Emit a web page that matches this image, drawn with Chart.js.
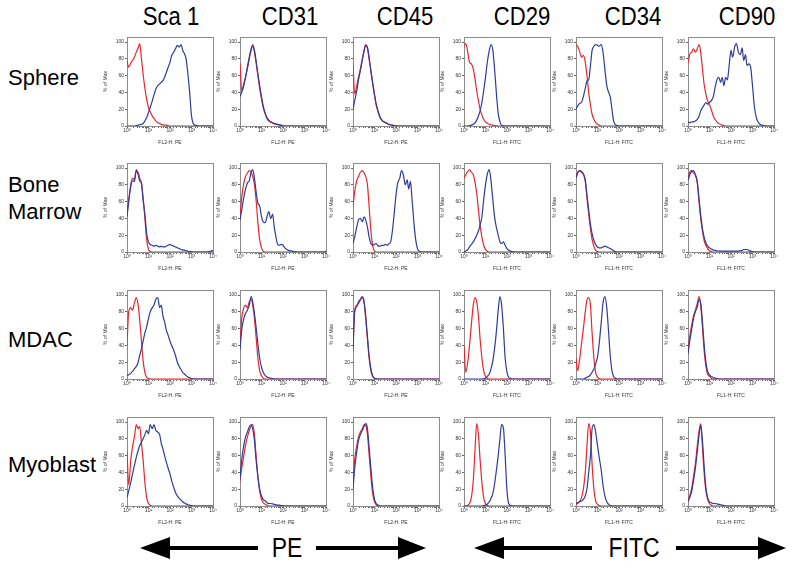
<!DOCTYPE html>
<html>
<head>
<meta charset="utf-8">
<script src="https://cdn.jsdelivr.net/npm/chart.js@4.4.1/dist/chart.umd.min.js"></script>
<style>
body { margin: 0; background: #fff; }
#fig { position: relative; width: 800px; height: 570px; overflow: hidden; font-family: "Liberation Sans", Arial, sans-serif; color: #000; }
#fig canvas { position: absolute; }
.head { position: absolute; top: 2px; width: 100px; text-align: center; font-size: 26px; line-height: 28px; transform: scaleX(0.85); }
.rowlab { position: absolute; left: 8px; font-size: 22px; line-height: 27px; }
.axlab { position: absolute; top: 533px; width: 80px; text-align: center; font-size: 27px; line-height: 30px; transform: scaleX(0.85); }
</style>
</head>
<body>
<div id="fig">
  <svg width="800" height="570" style="position:absolute;left:0;top:0">
    <g fill="#000">
      <polygon points="140,548 170,537 170,559"/><rect x="168" y="546" width="90" height="4"/>
      <rect x="316" y="546" width="84" height="4"/><polygon points="426,548 398,537 398,559"/>
      <polygon points="474,548 504,537 504,559"/><rect x="502" y="546" width="90" height="4"/>
      <rect x="676" y="546" width="84" height="4"/><polygon points="786,548 758,537 758,559"/>
    </g>
  </svg>
  <div class="axlab" style="left:247px">PE</div>
  <div class="axlab" style="left:594px">FITC</div>
</div>
<script>
// histogram channels (log scale, 10^0 .. 10^4)
const bins = [1,1.2,1.5,1.8,2.2,2.7,3.3,3.9,4.7,5.6,6.8,8.2,
  10,12,15,18,22,27,33,39,47,56,68,82,
  100,120,150,180,220,270,330,390,470,560,680,820,
  1000,1200,1500,1800,2200,2700,3300,3900,4700,5600,6800,8200,10000];

const markers = ['Sca 1','CD31','CD45','CD29','CD34','CD90'];
const cellTypes = ['Sphere','Bone Marrow','MDAC','Myoblast'];
const xTitles = ['FL2-H: PE','FL2-H: PE','FL2-H: PE','FL1-H: FITC','FL1-H: FITC','FL1-H: FITC'];
const xTickLabels = ['10\u2070','10\u00b9','10\u00b2','10\u00b3','10\u2074'];
const yTicks = [0,20,40,60,80,100];

// % of Max, red = control, blue = marker; one row per marker column
const sphereRed = [
  [78,70,75,78,82,88,93,98,80,62,45,32, 22,17,12,9,6,4,3,2,1.5,1,1,0.5, 0,0,0,0,0,0,0,0,0,0,0,0, 0,0,0,0,0,0,0,0,0,0,0,0, 0],
  [75,42,50,58,68,80,90,95,88,75,60,45, 32,22,14,9,6,4.5,3.5,2.5,2,1.5,1,0.5, 0.3,0,0,0,0,0,0,0,0,0,0,0, 0,0,0,0,0,0,0,0,0,0,0,0, 0],
  [75,38,48,58,68,80,90,97,92,80,65,50, 36,25,16,10,7,5,4,3,2,1.5,1,0.5, 0.3,0,0,0,0,0,0,0,0,0,0,0, 0,0,0,0,0,0,0,0,0,0,0,0, 0],
  [95,98,88,76,74,68,55,42,30,20,13,8, 5,3.5,2,1.5,1,0.5,0.3,0,0,0,0,0, 0,0,0,0,0,0,0,0,0,0,0,0, 0,0,0,0,0,0,0,0,0,0,0,0, 0],
  [97,95,88,82,84,76,58,40,25,14,8,4, 2,1,0,0,0,0,0,0,0,0,0,0, 0,0,0,0,0,0,0,0,0,0,0,0, 0,0,0,0,0,0,0,0,0,0,0,0, 0],
  [75,85,88,92,88,92,97,88,68,50,38,30, 25,20,12,8,5,3,2,1,0.5,0,0,0, 0,0,0,0,0,0,0,0,0,0,0,0, 0,0,0,0,0,0,0,0,0,0,0,0, 0]
];
const sphereBlue = [
  [0,0,0,0,0,0.5,1,1.5,2,3,6,10, 16,22,30,37,44,48,50,52,54,58,64,70, 76,84,88,92,96,94,97,90,86,80,62,40, 12,3,1,0.5,0,0,0,0,0,0,0,0, 0],
  [35,40,48,58,70,82,92,97,90,78,62,48, 35,24,15,10,7,5,4,3,2.5,2,1.5,1, 0.5,0,0,0,0,0,0,0,0,0,0,0, 0,0,0,0,0,0,0,0,0,0,0,0, 0],
  [20,30,42,55,66,78,90,96,94,82,66,52, 38,26,17,11,7,5,4,3,2,1.5,1,0.5, 0.3,0,0,0,0,0,0,0,0,0,0,0, 0,0,0,0,0,0,0,0,0,0,0,0, 0],
  [0,0,0,0.5,1,2,4,7,12,18,28,42, 58,75,90,97,90,65,35,15,5,1,0.3,0, 0,0,0,0,0,0,0,0,0,0,0,0, 0,0,0,0,0,0,0,0,0,0,0,0, 0],
  [20,24,27,28,35,45,54,55,72,90,95,97, 96,95,97,88,68,48,40,35,20,6,1.5,0.5, 0,0,0,0,0,0,0,0,0,0,0,0, 0,0,0,0,0,0,0,0,0,0,0,0, 0],
  [5,4,5,5,6,8,12,18,22,25,28,26, 28,30,35,45,55,58,52,58,48,58,55,72, 90,82,95,98,88,85,93,78,85,72,74,70, 48,25,10,5,2,1,0.5,0,0,0,0,0, 0]
];
const marrowRed = [
  [45,62,80,88,86,96,95,88,82,65,40,15, 3,0.5,0,0,0,0,0,0,0,0,0,0, 0,0,0,0,0,0,0,0,0,0,0,0, 0,0,0,0,0,0,0,0,0,0,0,0, 0],
  [42,65,82,90,94,97,95,90,80,62,35,15, 5,1,0,0,0,0,0,0,0,0,0,0, 0,0,0,0,0,0,0,0,0,0,0,0, 0,0,0,0,0,0,0,0,0,0,0,0, 0],
  [55,72,85,90,95,97,94,90,80,55,25,8, 1,0,0,0,0,0,0,0,0,0,0,0, 0,0,0,0,0,0,0,0,0,0,0,0, 0,0,0,0,0,0,0,0,0,0,0,0, 0],
  [88,92,96,98,95,92,82,70,50,32,18,8, 3,1,0,0,0,0,0,0,0,0,0,0, 0,0,0,0,0,0,0,0,0,0,0,0, 0,0,0,0,0,0,0,0,0,0,0,0, 0],
  [88,95,97,96,93,84,62,45,28,15,7,2, 0.5,0,0,0,0,0,0,0,0,0,0,0, 0,0,0,0,0,0,0,0,0,0,0,0, 0,0,0,0,0,0,0,0,0,0,0,0, 0],
  [88,95,97,94,92,82,58,40,25,14,8,4, 1.5,0.5,0,0,0,0,0,0,0,0,0,0, 0,0,0,0,0,0,0,0,0,0,0,0, 0,0,0,0,0,0,0,0,0,0,0,0, 0]
];
const marrowBlue = [
  [42,60,78,85,84,98,92,85,82,62,45,22, 12,9,8,7,8,7,6,7,6,6,7,8, 9,8,7,6,5,4,3,2.5,2,1.5,1,0.5, 0.3,0,0,0,0,0,0,0,0,0,0.5,1, 2],
  [38,50,65,75,82,85,95,98,88,72,58,55, 42,36,35,42,48,40,45,30,18,9,8,9, 8,5,3,2,1.5,1,0.5,0.3,0,0,0,0, 0,0,0,0,0,0,0,0,0,0,0,0, 1],
  [10,18,30,38,40,36,42,38,30,18,10,8, 9,10,7,7,8,8,9,8,10,12,25,45, 68,82,88,97,92,80,86,75,84,62,35,15, 4,1,0,0,0,0,0,0,0,0,0,0, 0],
  [0,1,3,6,9,12,16,20,25,32,42,62, 80,92,98,85,62,40,28,20,12,10,12,8, 4,2,1,0.5,0,0,0,0,0,0,0,0, 0,0,0,0,0,0,0,0,0,0,0,0, 0],
  [88,94,97,95,93,86,66,50,33,22,14,9, 6,5,5,6,7,6,5,4,3,1.5,0.5,0, 0,0,0,0,0,0,0,0,0,0,0,0, 0,0,0,0,0,0,0,0,0,0,0,0, 0],
  [85,92,96,97,92,84,62,44,28,18,11,7, 5,3.5,2.5,2,1.5,1.2,1,1,1,1,1,1, 1,1,1,1,1,1.5,2,3,3,3,2,1, 0.5,0,0,0,0,0,0,0,0,0,0,0, 0]
];
const mdacRed = [
  [40,80,85,82,90,97,88,70,45,22,8,2, 0.5,0,0,0,0,0,0,0,0,0,0,0, 0,0,0,0,0,0,0,0,0,0,0,0, 0,0,0,0,0,0,0,0,0,0,0,0, 0],
  [40,72,85,88,85,92,95,88,72,50,25,10, 4,1,0,0,0,0,0,0,0,0,0,0, 0,0,0,0,0,0,0,0,0,0,0,0, 0,0,0,0,0,0,0,0,0,0,0,0, 0],
  [38,82,88,90,94,97,90,72,48,25,10,3, 1,0,0,0,0,0,0,0,0,0,0,0, 0,0,0,0,0,0,0,0,0,0,0,0, 0,0,0,0,0,0,0,0,0,0,0,0, 0],
  [40,8,20,40,65,88,97,92,75,48,25,10, 3,1,0,0,0,0,0,0,0,0,0,0, 0,0,0,0,0,0,0,0,0,0,0,0, 0,0,0,0,0,0,0,0,0,0,0,0, 0],
  [25,10,25,42,60,80,95,97,88,55,25,8, 2,0.5,0,0,0,0,0,0,0,0,0,0, 0,0,0,0,0,0,0,0,0,0,0,0, 0,0,0,0,0,0,0,0,0,0,0,0, 0],
  [35,50,65,75,82,90,98,88,62,35,15,6, 3,1,0,0,0,0,0,0,0,0,0,0, 0,0,0,0,0,0,0,0,0,0,0,0, 0,0,0,0,0,0,0,0,0,0,0,0, 0]
];
const mdacBlue = [
  [4,5,7,9,12,15,20,28,36,45,55,62, 72,80,85,88,95,97,85,88,75,68,58,52, 45,40,34,28,20,15,11,8,6,4,2.5,1.5, 0.5,0,0,0,0,0,0,0,0,0,0,0, 0],
  [35,58,72,78,82,88,98,92,78,62,42,25, 14,8,4,2.5,1.5,1,0.5,0,0,0,0,0, 0,0,0,0,0,0,0,0,0,0,0,0, 0,0,0,0,0,0,0,0,0,0,0,0, 0],
  [35,80,86,92,95,98,92,75,50,28,12,4, 1,0.5,0,0,0,0,0,0,0,0,0,0, 0,0,0,0,0,0,0,0,0,0,0,0, 0,0,0,0,0,0,0,0,0,0,0,0, 0],
  [0,0,0,0,0,0,0,0,0,0,0,0.5, 1,3,6,12,22,38,60,82,98,88,60,25, 8,2,0.5,0,0,0,0,0,0,0,0,0, 0,0,0,0,0,0,0,0,0,0,0,0, 0],
  [0,0,0,0,0,1,2,3,5,8,12,18, 26,42,68,90,98,85,55,28,10,3,1,0, 0,0,0,0,0,0,0,0,0,0,0,0, 0,0,0,0,0,0,0,0,0,0,0,0, 0],
  [30,45,60,72,80,86,95,90,68,42,20,9, 5,3,2,1,0.5,0,0,0,0,0,0,0, 0,0,0,0,0,0,0,0,0,0,0,0, 0,0,0,0,0,0,0,0,0,0,0,0, 0]
];
const myoRed = [
  [65,25,55,70,82,97,92,95,75,55,28,10, 3,1,0,0,0,0,0,0,0,0,0,0, 0,0,0,0,0,0,0,0,0,0,0,0, 0,0,0,0,0,0,0,0,0,0,0,0, 0],
  [30,45,60,72,82,90,95,97,85,60,35,18, 8,4,2,1,0,0,0,0,0,0,0,0, 0,0,0,0,0,0,0,0,0,0,0,0, 0,0,0,0,0,0,0,0,0,0,0,0, 0],
  [25,55,72,82,88,92,97,96,85,62,35,15, 5,1.5,0,0,0,0,0,0,0,0,0,0, 0,0,0,0,0,0,0,0,0,0,0,0, 0,0,0,0,0,0,0,0,0,0,0,0, 0],
  [0,0,1,3,10,30,70,98,85,55,28,10, 3,1,0,0,0,0,0,0,0,0,0,0, 0,0,0,0,0,0,0,0,0,0,0,0, 0,0,0,0,0,0,0,0,0,0,0,0, 0],
  [2,3,6,10,20,40,75,98,88,50,20,6, 2,0.5,0,0,0,0,0,0,0,0,0,0, 0,0,0,0,0,0,0,0,0,0,0,0, 0,0,0,0,0,0,0,0,0,0,0,0, 0],
  [8,12,22,35,50,72,90,98,70,40,18,8, 3,1,0,0,0,0,0,0,0,0,0,0, 0,0,0,0,0,0,0,0,0,0,0,0, 0,0,0,0,0,0,0,0,0,0,0,0, 0]
];
const myoBlue = [
  [10,18,28,38,48,58,66,72,76,80,85,90, 86,97,92,97,90,88,85,75,68,60,52,45, 38,30,22,16,12,9,7,5,3.5,2.5,1.5,1, 0.5,0,0,0,0,0,0,0,0,0,0,0, 0],
  [32,55,72,82,88,94,97,92,78,55,35,20, 12,8,6,4,3,3,2.5,2,1.5,1,1,0.5, 0.5,0,0,0,0,0,0,0,0,0,0,0, 0,0,0,0,0,0,0,0,0,0,0,0, 0],
  [20,45,65,78,85,90,95,98,92,70,45,22, 8,3,1,0,0,0,0,0,0,0,0,0, 0,0,0,0,0,0,0,0,0,0,0,0, 0,0,0,0,0,0,0,0,0,0,0,0, 0],
  [0,0,0,0,0,0,0,0,0,0,0,0.5, 1,2,5,9,15,28,45,60,80,97,93,60, 18,3,0.5,0,0,0,0,0,0,0,0,0, 0,0,0,0,0,0,0,0,0,0,0,0, 0],
  [3,4,5,6,8,12,22,40,60,92,97,88, 72,58,42,25,12,5,2,0.5,0,0,0,0, 0,0,0,0,0,0,0,0,0,0,0,0, 0,0,0,0,0,0,0,0,0,0,0,0, 0],
  [5,10,18,30,45,65,85,96,78,48,22,10, 5,4,3,3,2.5,2,1.5,1,0.5,0,0,0, 0,0,0,0,0,0,0,0,0,0,0,0, 0,0,0,0,0,0,0,0,0,0,0,0, 0]
];

const redSets = [sphereRed, marrowRed, mdacRed, myoRed];
const blueSets = [sphereBlue, marrowBlue, mdacBlue, myoBlue];

// layout of the grid
const boxLeft = [127, 240, 353, 464, 576, 688];
const boxTop = [37, 163, 290, 417];
const boxW = 86, boxH = 89;
const padL = 24, padT = 5, padR = 8, padB = 20;

const fig = document.getElementById('fig');

const headX = [171, 290, 405, 522, 633, 747];
markers.forEach((m, i) => {
  const d = document.createElement('div');
  d.className = 'head';
  d.style.left = (headX[i] - 50) + 'px';
  d.textContent = m;
  fig.appendChild(d);
});
const rowY = [[78], [185, 212], [340], [465]];
const rowWords = [['Sphere'], ['Bone', 'Marrow'], ['MDAC'], ['Myoblast']];
rowWords.forEach((words, r) => {
  words.forEach((w, k) => {
    const d = document.createElement('div');
    d.className = 'rowlab';
    d.style.top = (rowY[r][k] - 14) + 'px';
    d.textContent = w;
    fig.appendChild(d);
  });
});

const frame = {
  id: 'frame',
  beforeDatasetsDraw(chart) {
    const a = chart.chartArea, c = chart.ctx;
    c.save();
    c.strokeStyle = '#8c8c8c';
    c.lineWidth = 1;
    c.strokeRect(Math.round(a.left) + 0.5, Math.round(a.top) + 0.5, Math.round(a.width), Math.round(a.height));
    c.restore();
  }
};

const small = { size: 5, family: 'Liberation Sans, DejaVu Sans, sans-serif' };

function pts(arr) {
  return bins.map((x, i) => ({ x: x, y: arr[i] }));
}

for (let r = 0; r < 4; r++) {
  for (let c = 0; c < 6; c++) {
    const cv = document.createElement('canvas');
    const w = padL + boxW + padR, h = padT + boxH + padB;
    cv.width = w; cv.height = h;
    cv.style.left = (boxLeft[c] - padL) + 'px';
    cv.style.top = (boxTop[r] - padT) + 'px';
    cv.style.width = w + 'px'; cv.style.height = h + 'px';
    fig.appendChild(cv);
    new Chart(cv, {
      type: 'line',
      data: {
        datasets: [
          { data: pts(blueSets[r][c]), borderColor: '#2f3c99' },
          { data: pts(redSets[r][c]), borderColor: '#e8262d' }
        ]
      },
      options: {
        responsive: false,
        animation: false,
        devicePixelRatio: 1,
        layout: { padding: { left: 0, top: padT, right: padR, bottom: 0 } },
        plugins: { legend: { display: false }, tooltip: { enabled: false } },
        elements: {
          point: { radius: 0 },
          line: { borderWidth: 1.2, cubicInterpolationMode: 'monotone' }
        },
        scales: {
          x: {
            type: 'logarithmic', min: 1, max: 10000,
            afterFit: s => { s.height = padB; },
            grid: { drawOnChartArea: false, tickLength: 2, tickColor: '#666' },
            border: { color: '#666' },
            ticks: {
              autoSkip: false, maxRotation: 0, minRotation: 0, padding: 0,
              font: small, color: '#333',
              callback: v => {
                const e = Math.log10(v);
                return Math.abs(e - Math.round(e)) < 1e-6 ? xTickLabels[Math.round(e)] : '';
              }
            },
            title: { display: true, text: xTitles[c], font: small, color: '#333', padding: 0 }
          },
          y: {
            min: 0, max: 106,
            afterBuildTicks: s => { s.ticks = yTicks.map(v => ({ value: v })); },
            afterFit: s => { s.width = padL; },
            grid: { drawOnChartArea: false, tickLength: 2, tickColor: '#666' },
            border: { color: '#666' },
            ticks: { font: small, color: '#333', padding: 1 },
            title: { display: true, text: '% of Max', font: small, color: '#333', padding: 0 }
          }
        }
      },
      plugins: [frame]
    });
  }
}
</script>
</body>
</html>
